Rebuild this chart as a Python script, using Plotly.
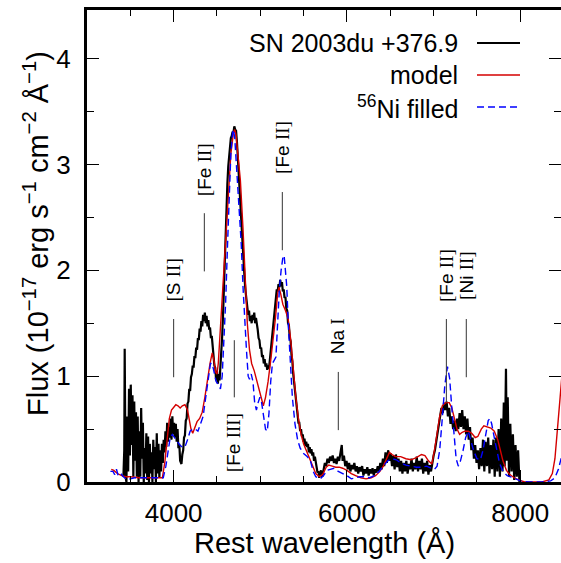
import plotly.graph_objects as go

# ---------------- data ----------------
# observed spectrum, blue noisy part
obs_wave_a = [3420,3430,3435,3445,3455,3465,3475,3485,3495,3505,3515,3525,3535,3545,3555,3565,3575,3585,3595,3605,
              3615,3625,3635,3645,3655,3665,3675,3685,3695,3705,3715,3725,3735,3745,3755,3765,3775,3785,3795,3805,
              3815,3825,3835,3845,3855,3865,3875,3885,3895,3905,3915,3925,3935,3945,3955,3965,3975,3985,3995,4005,
              4015,4025,4035,4045,4055,4065,4075,4085]
obs_flux_a = [0.05,0.30,1.26,0.05,0.00,0.62,0.10,0.88,0.25,0.92,0.35,0.82,0.05,0.76,0.20,0.66,0.05,0.62,0.00,0.48,
              0.05,0.70,0.22,0.56,0.00,0.32,0.08,0.46,0.02,0.43,0.00,0.36,0.08,0.28,0.00,0.40,0.12,0.33,0.00,0.46,
              0.08,0.36,0.04,0.30,0.10,0.36,0.18,0.40,0.28,0.48,0.33,0.56,0.38,0.52,0.42,0.60,0.40,0.62,0.45,0.56,
              0.42,0.55,0.38,0.50,0.32,0.36,0.20,0.17]
# observed spectrum, strong Fe lines
obs_wave_b = [4090,4100,4110,4120,4130,4140,4150,4160,4170,4180,4190,4200,4210,4220,4230,4240,4250,4260,4270,4280,
              4290,4300,4310,4320,4330,4340,4350,4360,4370,4380,4390,4400,4410,4420,4430,4440,4450,4460,4470,4480,
              4490,4500,4510,4520,4530,4540,4550,4560,4570,4580,4590,4600,4610,4620,4630,4640,4650,4660,4670,4680,
              4690,4700,4710,4720,4730,4740,4750,4760,4770,4780,4790,4800,4810,4820,4830,4840,4850,4860,4870,4880,
              4890,4900,4910,4920,4930,4940,4950,4960,4970,4980,4990,5000,5010,5020,5030,5040,5050,5060,5070,5080,
              5090,5100,5110,5120,5130,5140,5150,5160,5170,5180,5190,5200,5210,5220,5230,5240,5250,5260,5270,5280,
              5290,5300,5310,5320,5330,5340,5350,5360,5370,5380,5390,5400,5410,5420,5430,5440,5450,5460,5470,5480,
              5490,5500,5510,5520,5530,5540,5550,5560,5570,5580,5590,5600,5610,5620,5630,5640,5650,5660,5670,5680,
              5690,5700]
obs_flux_b = [0.17,0.26,0.30,0.42,0.44,0.58,0.60,0.74,0.76,0.88,0.86,0.99,1.02,1.10,1.08,1.19,1.17,1.27,1.25,1.36,
              1.34,1.45,1.42,1.52,1.47,1.58,1.52,1.60,1.50,1.57,1.47,1.53,1.44,1.46,1.36,1.38,1.26,1.22,1.10,1.08,
              0.96,1.05,0.93,1.02,0.96,1.10,1.22,1.38,1.58,1.85,2.15,2.40,2.65,2.82,2.98,3.10,3.18,3.25,3.27,3.31,
              3.30,3.36,3.33,3.32,3.22,3.10,2.93,2.78,2.62,2.45,2.30,2.18,2.02,1.90,1.80,1.70,1.66,1.58,1.62,1.52,
              1.57,1.50,1.58,1.53,1.60,1.50,1.55,1.46,1.44,1.36,1.34,1.26,1.27,1.18,1.20,1.12,1.16,1.09,1.12,1.06,
              1.10,1.07,1.16,1.20,1.31,1.40,1.52,1.58,1.70,1.74,1.82,1.80,1.87,1.84,1.91,1.85,1.89,1.80,1.82,1.74,
              1.75,1.64,1.62,1.50,1.48,1.36,1.33,1.20,1.14,1.02,0.95,0.84,0.78,0.68,0.64,0.56,0.56,0.48,0.50,0.43,
              0.45,0.38,0.41,0.34,0.38,0.33,0.36,0.28,0.33,0.27,0.31,0.25,0.28,0.20,0.24,0.17,0.16,0.09,0.10,0.04,
              0.08,0.11]
# observed spectrum, red part
obs_wave_c = [5715,5730,5745,5760,5775,5790,5805,5820,5835,5850,5865,5880,5895,5910,5925,5940,5950,5965,
              5980,5995,6010,6025,6040,6055,6070,6085,6100,6115,6130,6145,6160,6175,6190,6205,6220,6235,6250,6265,
              6280,6295,6310,6325,6340,6355,6370,6385,6400,6415,6430,6445,6460,6475,6490,6505,6520,6535,6550,6565,
              6580,6595,6610,6625,6640,6655,6670,6685,6700,6715,6730,6745,6760,6775,6790,6805,6820,6835,6850,6865,
              6880,6895,6910,6925,6940,6955,6970,6985,7000,7015,7030,7045,7060,7075,7090,7105,7120,7135,7150,7165,
              7180,7195,7210,7225,7240,7255,7270,7285,7300,7315,7330,7345,7360,7375,7390,7405,7420,7435,7450,7465,
              7480,7495,7510,7525,7540,7555,7570,7585,7600,7615,7630,7645,7660,7675,7690,7705,7720,7735,7750,7765,
              7780,7795,7810,7820,7835,7845,7855,7870,7885,7900,7915,7930,7945,7960,7975,7990]
obs_flux_c = [0.05,0.12,0.18,0.15,0.22,0.18,0.24,0.20,0.25,0.18,0.22,0.17,0.24,0.20,0.26,0.35,0.20,0.25,
              0.15,0.20,0.12,0.18,0.10,0.16,0.12,0.18,0.10,0.15,0.08,0.14,0.10,0.15,0.06,0.12,0.08,0.14,0.06,0.12,
              0.08,0.13,0.06,0.12,0.09,0.15,0.10,0.18,0.12,0.22,0.15,0.28,0.18,0.30,0.20,0.27,0.15,0.25,0.12,0.26,
              0.14,0.22,0.10,0.20,0.08,0.18,0.10,0.20,0.08,0.17,0.12,0.22,0.10,0.18,0.12,0.24,0.10,0.20,0.12,0.22,
              0.08,0.18,0.10,0.20,0.07,0.16,0.10,0.20,0.25,0.30,0.38,0.45,0.55,0.60,0.70,0.65,0.75,0.68,0.76,0.62,
              0.70,0.55,0.62,0.50,0.58,0.48,0.60,0.50,0.65,0.52,0.68,0.50,0.62,0.45,0.60,0.40,0.52,0.30,0.42,0.22,
              0.35,0.18,0.30,0.12,0.32,0.15,0.40,0.10,0.38,0.15,0.42,0.08,0.35,0.12,0.40,0.05,0.42,0.10,0.50,0.05,
              0.60,0.10,0.75,0.15,1.07,0.20,0.80,0.05,0.55,0.10,0.45,0.02,0.35,0.05,0.30,0.00]

model_wave = [3280,3310,3350,3400,3450,3500,3600,3700,3800,3870,3900,3925,3950,3975,4000,4025,4050,4075,4100,4130,
              4160,4180,4200,4220,4245,4270,4300,4330,4360,4390,4420,4445,4465,4485,4500,4515,4535,4555,4575,4600,
              4630,4660,4690,4705,4720,4740,4770,4800,4825,4850,4875,4900,4930,4960,4990,5015,5035,5060,5090,5120,
              5150,5175,5200,5215,5235,5260,5290,5320,5350,5380,5410,5440,5470,5500,5530,5560,5600,5640,5680,5720,
              5760,5790,5830,5870,5910,5950,6000,6050,6100,6160,6220,6280,6330,6380,6420,6460,6490,6520,6560,6620,
              6680,6740,6800,6860,6900,6940,6980,7010,7040,7070,7100,7140,7180,7210,7240,7270,7300,7330,7360,7400,
              7440,7480,7510,7550,7580,7620,7660,7700,7740,7770,7800,7840,7880,7930,7980,8050,8150,8250,8330,8370,
              8400,8430,8460,8490]
model_flux = [0.12,0.11,0.08,0.06,0.05,0.05,0.04,0.04,0.04,0.04,0.20,0.42,0.60,0.68,0.70,0.73,0.72,0.70,0.72,0.73,
              0.68,0.60,0.50,0.46,0.52,0.57,0.60,0.66,0.80,0.98,1.12,1.22,1.15,1.04,1.02,1.12,1.40,1.65,1.95,2.25,
              2.72,3.10,3.30,3.33,3.28,3.10,2.85,2.40,1.95,1.50,1.25,1.12,1.05,0.95,0.85,0.78,0.72,0.80,0.95,1.15,
              1.35,1.55,1.78,1.84,1.78,1.68,1.62,1.55,1.35,1.05,0.80,0.60,0.45,0.36,0.30,0.24,0.15,0.08,0.05,0.07,
              0.14,0.16,0.15,0.14,0.14,0.13,0.11,0.08,0.06,0.04,0.03,0.04,0.06,0.10,0.15,0.22,0.28,0.26,0.24,0.24,
              0.22,0.21,0.23,0.26,0.25,0.20,0.17,0.30,0.45,0.62,0.72,0.75,0.75,0.70,0.60,0.50,0.45,0.47,0.48,0.48,
              0.46,0.42,0.43,0.50,0.53,0.52,0.51,0.48,0.40,0.30,0.20,0.11,0.07,0.04,0.02,0.00,0.00,0.00,0.02,0.08,
              0.22,0.48,0.80,1.10]

ni_wave = [3270,3300,3320,3340,3360,3390,3420,3460,3500,3550,3600,3700,3800,3880,3910,3935,3960,3985,4010,4040,
           4070,4100,4130,4160,4190,4220,4250,4280,4310,4340,4370,4400,4425,4445,4465,4490,4515,4540,4560,4580,
           4600,4620,4640,4660,4680,4690,4705,4720,4740,4760,4780,4800,4820,4840,4860,4875,4895,4915,4935,4955,
           4975,4995,5015,5040,5060,5080,5100,5120,5140,5160,5180,5200,5220,5240,5260,5275,5290,5305,5325,5345,
           5370,5400,5430,5460,5500,5540,5575,5610,5640,5690,5730,5770,5810,5850,5900,5950,6000,6050,6100,6150,
           6200,6260,6320,6370,6420,6470,6520,6570,6620,6680,6740,6800,6860,6920,6970,7010,7040,7070,7100,7130,
           7160,7185,7210,7235,7260,7285,7310,7340,7370,7400,7430,7460,7500,7540,7570,7600,7630,7650,7670,7700,
           7730,7760,7800,7850,7920,8000,8100,8250,8350,8400,8440,8480]
ni_flux = [0.10,0.10,0.07,0.12,0.06,0.08,0.05,0.02,0.03,0.04,0.04,0.04,0.04,0.04,0.15,0.30,0.42,0.45,0.42,0.38,
           0.35,0.33,0.33,0.40,0.48,0.50,0.50,0.48,0.55,0.62,0.80,1.00,1.12,1.12,1.05,0.95,0.92,0.88,1.00,1.30,
           1.70,2.20,2.70,3.10,3.30,3.33,3.25,3.05,2.85,2.60,2.25,1.85,1.50,1.25,1.00,0.97,1.02,0.95,0.75,0.68,
           0.75,0.80,0.75,0.60,0.50,0.48,0.65,0.95,1.12,1.15,1.18,1.50,1.82,2.00,2.12,2.14,2.00,1.85,1.45,1.10,
           0.80,0.55,0.40,0.32,0.27,0.24,0.21,0.10,0.05,0.03,0.06,0.11,0.12,0.13,0.10,0.08,0.06,0.03,0.04,0.05,
           0.05,0.04,0.06,0.10,0.15,0.20,0.22,0.21,0.18,0.16,0.15,0.14,0.14,0.15,0.13,0.12,0.15,0.30,0.60,0.92,
           1.09,0.98,0.70,0.42,0.22,0.15,0.20,0.30,0.42,0.48,0.40,0.30,0.22,0.21,0.30,0.45,0.58,0.60,0.55,0.42,
           0.28,0.18,0.10,0.06,0.04,0.01,0.00,0.00,0.01,0.04,0.12,0.25]

line_names = ["[S II]", "[Fe II]", "[Fe III]", "[Fe II]", "Na I", "[Fe II]", "[Ni II]"]
line_waves = [4000, 4354, 4700, 5254, 5900, 7147, 7377]

# ---------------- layout helpers (positions/styles) ----------------
line_y0 = [0.99, 1.99, 0.80, 2.19, 0.49, 0.75, 0.99]
line_y1 = [1.54, 2.54, 1.34, 2.74, 1.04, 1.54, 1.54]
label_y = [1.91, 2.95, 0.37, 3.16, 1.38, 1.95, 1.95]

SANS = "Liberation Sans"
SERIF = "Liberation Serif"


def styled_label(name):
    # roman numerals and brackets in serif, element symbols in sans
    elem, num = name.split(" ")
    s = ""
    if elem.startswith("["):
        s += "<span style='font-family:%s'>[</span>" % SERIF
    s += elem.lstrip("[") + " "
    s += "<span style='font-family:%s'>%s</span>" % (SERIF, num)
    return s


obs_wave = obs_wave_a + obs_wave_b + obs_wave_c
obs_flux = obs_flux_a + obs_flux_b + obs_flux_c

fig = go.Figure()
fig.add_trace(go.Scatter(x=obs_wave, y=obs_flux, mode="lines",
                         line=dict(color="black", width=2.2), showlegend=False))
fig.add_trace(go.Scatter(x=model_wave, y=model_flux, mode="lines",
                         line=dict(color="#d40000", width=1.4), showlegend=False))
fig.add_trace(go.Scatter(x=ni_wave, y=ni_flux, mode="lines",
                         line=dict(color="#0000ff", width=1.4, dash="7px,4px"), showlegend=False))

shapes = []
annotations = []
for nm, w, y0, y1, ly in zip(line_names, line_waves, line_y0, line_y1, label_y):
    shapes.append(dict(type="line", xref="x", yref="y", x0=w, x1=w, y0=y0, y1=y1,
                       line=dict(color="#333333", width=1)))
    annotations.append(dict(x=w, y=ly, xref="x", yref="y", text=styled_label(nm),
                            textangle=-90, showarrow=False, xanchor="center", yanchor="middle",
                            font=dict(family=SANS, size=19, color="black")))

# custom legend (text left of sample, as in the reference)
L, T, W, H = 87, 10, 474, 472


def px(p):
    return (p - L) / W


def py(q):
    return (T + H - q) / H


legend_items = [("SN 2003du +376.9", dict(color="black", width=1.8)),
                ("model", dict(color="#d40000", width=1.4)),
                ("<sup>56</sup>Ni filled", dict(color="#0000ff", width=1.4, dash="7px,4px"))]
for i, (txt, ln) in enumerate(legend_items):
    yy = 43 + 32 * i
    annotations.append(dict(x=px(460), y=py(yy), xref="paper", yref="paper", text=txt,
                            showarrow=False, xanchor="right", yanchor="middle",
                            font=dict(family=SANS, size=25, color="black")))
    shapes.append(dict(type="line", xref="paper", yref="paper", x0=px(477), x1=px(520),
                       y0=py(yy), y1=py(yy), line=ln))

# axis titles
annotations.append(dict(x=0.5, y=py(543), xref="paper", yref="paper", text="Rest wavelength (Å)",
                        showarrow=False, xanchor="center", yanchor="middle",
                        font=dict(family=SANS, size=29, color="black")))
annotations.append(dict(x=px(36), y=py(234), xref="paper", yref="paper",
                        text="Flux (10<sup>−17</sup> erg s<sup>−1</sup> cm<sup>−2</sup> Å<sup>−1</sup>)",
                        textangle=-90, showarrow=False, xanchor="center", yanchor="middle",
                        font=dict(family=SANS, size=29, color="black")))

fig.update_layout(
    width=561, height=563,
    margin=dict(l=87, r=0, t=10, b=81, pad=0),
    plot_bgcolor="white", paper_bgcolor="white",
    font=dict(family=SANS, color="black"),
    shapes=shapes, annotations=annotations,
    showlegend=False,
)
fig.update_xaxes(range=[3000, 8470], tickmode="linear", tick0=0, dtick=2000, automargin=False,
                 ticks="inside", ticklen=12, tickwidth=1, tickcolor="black",
                 minor=dict(dtick=500, ticks="inside", ticklen=6, tickwidth=1, tickcolor="black"),
                 showline=True, linewidth=3, linecolor="black", mirror="ticks",
                 showgrid=False, zeroline=False, tickfont=dict(family=SANS, size=26, color="black"),
                 ticklabelstandoff=6)
fig.update_yaxes(range=[0, 4.46], tickmode="linear", tick0=0, dtick=1, automargin=False,
                 ticks="inside", ticklen=12, tickwidth=1, tickcolor="black",
                 minor=dict(dtick=0.5, ticks="inside", ticklen=7, tickwidth=1, tickcolor="black"),
                 showline=True, linewidth=3, linecolor="black", mirror="ticks",
                 showgrid=False, zeroline=False, tickfont=dict(family=SANS, size=26, color="black"),
                 ticklabelstandoff=8)

fig.write_html("out.html", config={"displayModeBar": False},
               post_script="document.body.style.margin='0';document.body.style.overflow='hidden';")
